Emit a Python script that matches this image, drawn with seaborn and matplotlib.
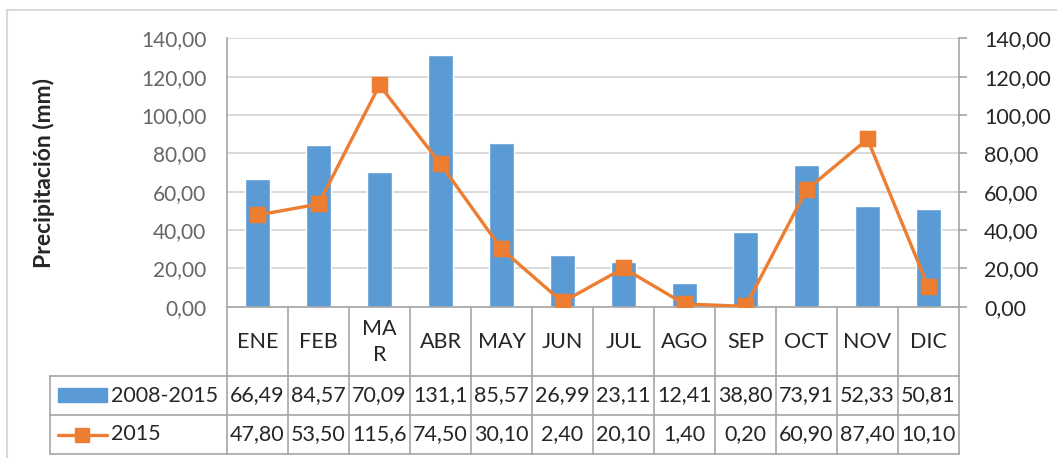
import matplotlib
matplotlib.use("Agg")
import matplotlib.pyplot as plt
import matplotlib.ticker as mticker
from matplotlib.lines import Line2D
from matplotlib.patches import Rectangle
import pandas as pd
import seaborn as sns

# data
months = ['ENE', 'FEB', 'MAR', 'ABR', 'MAY', 'JUN', 'JUL', 'AGO', 'SEP', 'OCT', 'NOV', 'DIC']
month_labels = ['ENE', 'FEB', 'MA\nR', 'ABR', 'MAY', 'JUN', 'JUL', 'AGO', 'SEP', 'OCT', 'NOV', 'DIC']
precip_avg = [66.49, 84.57, 70.09, 131.10, 85.57, 26.99, 23.11, 12.41, 38.80, 73.91, 52.33, 50.81]
precip_2015 = [47.80, 53.50, 115.60, 74.50, 30.10, 2.40, 20.10, 1.40, 0.20, 60.90, 87.40, 10.10]
series_names = ['2008-2015', '2015']
y_ticks = [0, 20, 40, 60, 80, 100, 120, 140]

df = pd.DataFrame({'mes': months, 'avg': precip_avg, 'y2015': precip_2015})

blue = '#5B9BD5'
orange = '#ED7D31'
grid_c = '#D9D9D9'
line_c = '#A6A6A6'
dark = '#262626'
tab_fs = 15.5

sns.set_style('white')
plt.rcParams['font.family'] = ['Lato', 'DejaVu Sans']

W, H = 1057, 458
fig = plt.figure(figsize=(W / 100, H / 100), dpi=100)
left, right, top, bottom = 227, 959, 38.3, 306.7
ax = fig.add_axes([left / W, 1 - bottom / H, (right - left) / W, (bottom - top) / H])

sns.barplot(data=df, x='mes', y='avg', color=blue, width=0.4, saturation=1,
            ax=ax, zorder=2)
sns.pointplot(data=df, x='mes', y='y2015', color=orange, markers='s',
              markersize=10, linewidth=2.4, ax=ax, zorder=3)

ax.set_xlim(-0.5, 11.5)
ax.set_ylim(0, 140)
ax.set_yticks(y_ticks)
fmt = mticker.FuncFormatter(lambda v, p: f"{v:.2f}".replace('.', ','))
ax.yaxis.set_major_formatter(fmt)
ax.tick_params(axis='y', length=0, pad=15, labelsize=15, labelcolor='#666666')
ax.tick_params(axis='x', length=0, labelbottom=False)
ax.set_xlabel('')
ax.set_ylabel('Precipitación (mm)', fontsize=16.5, fontweight='bold',
              color=dark, labelpad=0)
ax.yaxis.set_label_coords((55 - left) / (right - left), 0.5)
ax.grid(axis='y', color=grid_c, linewidth=1.4, zorder=0)
ax.set_axisbelow(True)
for s in ['top', 'right']:
    ax.spines[s].set_visible(False)
for s in ['left', 'bottom']:
    ax.spines[s].set_color(line_c)
    ax.spines[s].set_linewidth(1.2)

ax2 = ax.twinx()
ax2.set_ylim(0, 140)
ax2.set_yticks(y_ticks)
ax2.yaxis.set_major_formatter(fmt)
ax2.tick_params(axis='y', length=6, width=1.2, color=line_c, pad=12,
                labelsize=15.5, labelcolor=dark)
for s in ['top', 'left', 'bottom']:
    ax2.spines[s].set_visible(False)
ax2.spines['right'].set_color(line_c)
ax2.spines['right'].set_linewidth(1.2)

# data table below the plot
def yf(px):
    return (bottom - px) / (bottom - top)

def xf(px):
    return (px - left) / (right - left)

trans = ax.get_xaxis_transform()
tab_left = xf(50)
y_head, y_r1, y_r2 = yf(376), yf(415), yf(454)
lk = dict(color=line_c, linewidth=1.2, clip_on=False)

for i in range(13):
    ax.plot([i - 0.5, i - 0.5], [0, y_r2], transform=trans, **lk)
for yy in [y_head, y_r1, y_r2]:
    ax.plot([tab_left, 1], [yy, yy], transform=ax.transAxes, **lk)
ax.plot([tab_left, tab_left], [y_head, y_r2], transform=ax.transAxes, **lk)

for i, lab in enumerate(month_labels):
    ax.text(i, yf(342), lab, transform=trans, ha='center', va='center',
            fontsize=tab_fs, color=dark, linespacing=1.35)
    ax.text(i, yf(395.5), f"{precip_avg[i]:.2f}".replace('.', ',')[:5],
            transform=trans, ha='center', va='center', fontsize=tab_fs, color=dark)
    ax.text(i, yf(434.5), f"{precip_2015[i]:.2f}".replace('.', ',')[:5],
            transform=trans, ha='center', va='center', fontsize=tab_fs, color=dark)

# legend keys inside the table
ax.add_patch(Rectangle((xf(58), yf(402)), xf(107) - xf(58), yf(388) - yf(402),
                       transform=ax.transAxes, color=blue, clip_on=False))
ax.add_line(Line2D([xf(58), xf(107)], [yf(434.5), yf(434.5)], transform=ax.transAxes,
                   color=orange, linewidth=2.4, clip_on=False))
ax.add_line(Line2D([xf(82)], [yf(434.5)], transform=ax.transAxes, color=orange,
                   marker='s', markersize=10, clip_on=False))
ax.text(xf(111), yf(395.5), series_names[0], transform=ax.transAxes,
        ha='left', va='center', fontsize=tab_fs, color=dark)
ax.text(xf(111), yf(434.5), series_names[1], transform=ax.transAxes,
        ha='left', va='center', fontsize=tab_fs, color=dark)

# chart area border
fig.add_artist(Line2D([7 / W, 1], [1 - 10 / H, 1 - 10 / H], color=grid_c, linewidth=1.5))
fig.add_artist(Line2D([7 / W, 7 / W], [0, 1 - 10 / H], color=grid_c, linewidth=1.5))

fig.savefig('out.png', dpi=100)
